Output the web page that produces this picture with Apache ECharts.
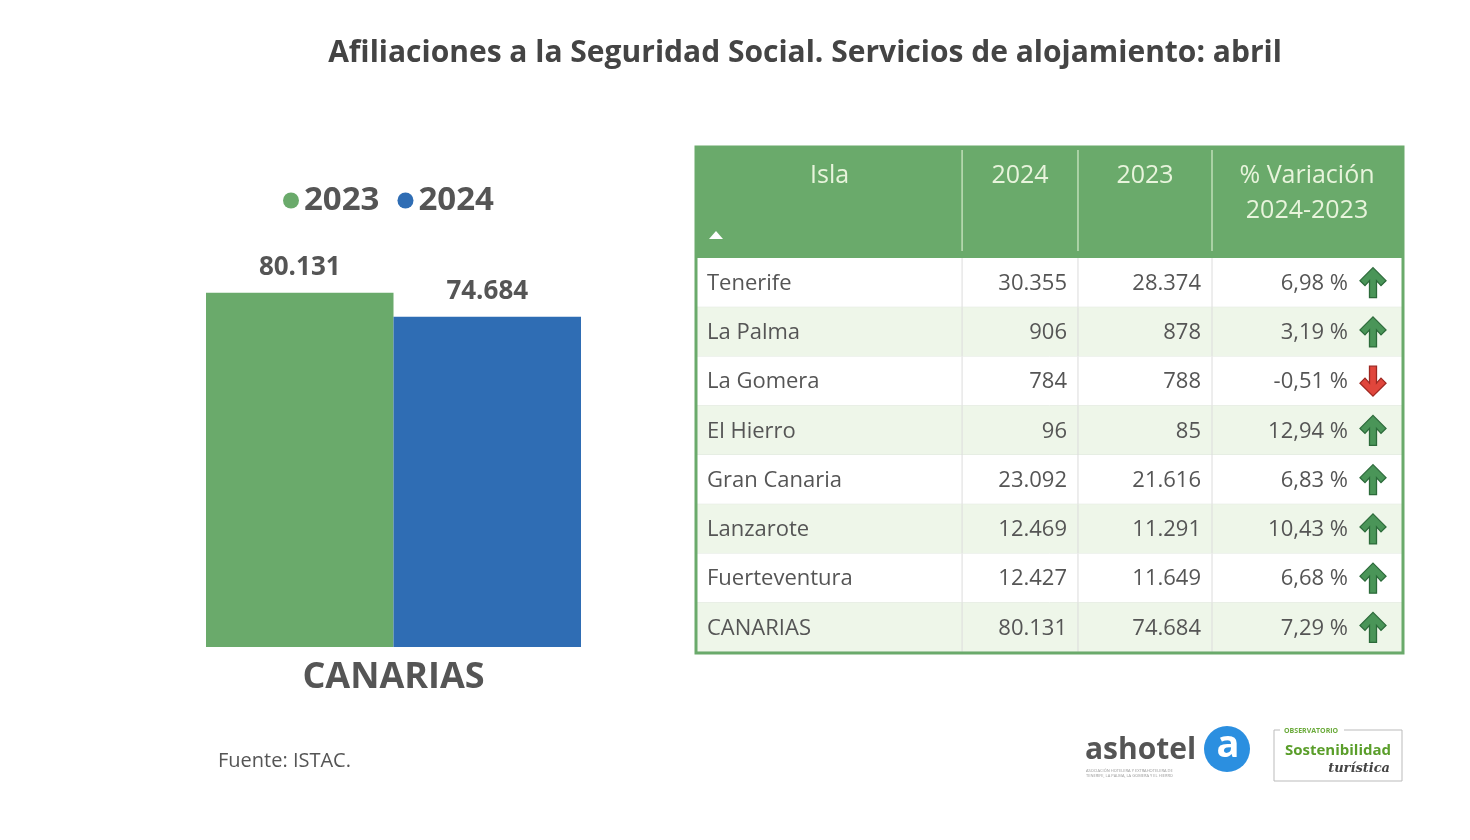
<!DOCTYPE html>
<html>
<head>
<meta charset="utf-8">
<script src="https://cdn.jsdelivr.net/npm/echarts@6/dist/echarts.min.js"></script>
<style>
html,body{margin:0;padding:0;background:#fff;}
#chart{width:1470px;height:840px;}
</style>
</head>
<body>
<div id="chart"></div>
<script>
// ---------- data ----------
const titleText = 'Afiliaciones a la Seguridad Social. Servicios de alojamiento: abril';
const barCategories = ['CANARIAS'];
const barSeriesNames = ['2023', '2024'];
const barValues2023 = [80131];
const barValues2024 = [74684];

const tableHeaders = ['Isla', '2024', '2023', '% Variación\n2024-2023'];
const islas = ['Tenerife', 'La Palma', 'La Gomera', 'El Hierro', 'Gran Canaria', 'Lanzarote', 'Fuerteventura', 'CANARIAS'];
const afil2024 = [30355, 906, 784, 96, 23092, 12469, 12427, 80131];
const afil2023 = [28374, 878, 788, 85, 21616, 11291, 11649, 74684];
const variacion = [6.98, 3.19, -0.51, 12.94, 6.83, 10.43, 6.68, 7.29];
const sourceText = 'Fuente: ISTAC.';

// ---------- helpers ----------
function fmtInt(v) {
  return String(Math.round(v)).replace(/\B(?=(\d{3})+(?!\d))/g, '.');
}
function fmtPct(v) {
  return v.toFixed(2).replace('.', ',') + ' %';
}

const GREEN = '#6aaa6b';
const BLUE = '#2f6db4';
const TXT = '#555555';
const FONT = '"Open Sans", "Noto Sans", sans-serif';

// table layout (fractions of table width)
const colFrac = [0, 0.376, 0.5404, 0.7305, 1];
const T_LEFT = 697, T_WIDTH = 705, T_HEAD_TOP = 148, T_BODY_TOP = 258, T_ROW_H = 49.25;

function arrowPath(cx, cy, up) {
  const s = up ? 1 : -1;
  const pts = [[0,-15],[13,-2],[8,3],[3.5,-2],[3.5,15],[-3.5,15],[-3.5,-2],[-8,3],[-13,-2]];
  return pts.map(p => [cx + p[0], cy + s * p[1]]);
}

function renderRow(params, api) {
  const i = api.value(1);
  const c = api.coord([0, i]);
  const h = api.size([0, 1])[1];
  const cs = params.coordSys;
  const x0 = cs.x, w = cs.width;
  const top = c[1] - h / 2;
  const b = colFrac.map(f => x0 + f * w);
  const cy = c[1];
  const up = variacion[i] >= 0;
  const textStyle = (txt, x, align) => ({
    type: 'text',
    style: { text: txt, x: x, y: cy + 1, align: align, verticalAlign: 'middle',
      fill: TXT, font: '22px ' + FONT }
  });
  return {
    type: 'group',
    children: [
      { type: 'rect', shape: { x: x0, y: top, width: w, height: h },
        style: { fill: i % 2 === 1 ? '#eef6e9' : '#ffffff' } },
      { type: 'line', shape: { x1: x0, y1: top + h, x2: x0 + w, y2: top + h },
        style: { stroke: '#dfe6dc', lineWidth: 1 } },
      { type: 'line', shape: { x1: b[1], y1: top, x2: b[1], y2: top + h }, style: { stroke: '#dcdcdc', lineWidth: 1 } },
      { type: 'line', shape: { x1: b[2], y1: top, x2: b[2], y2: top + h }, style: { stroke: '#dcdcdc', lineWidth: 1 } },
      { type: 'line', shape: { x1: b[3], y1: top, x2: b[3], y2: top + h }, style: { stroke: '#dcdcdc', lineWidth: 1 } },
      textStyle(islas[i], b[0] + 10, 'left'),
      textStyle(fmtInt(afil2024[i]), b[2] - 11, 'right'),
      textStyle(fmtInt(afil2023[i]), b[3] - 11, 'right'),
      textStyle(fmtPct(variacion[i]), b[4] - 54, 'right'),
      { type: 'polygon', shape: { points: arrowPath(b[4] - 29, cy, up) },
        style: { fill: up ? '#4a9558' : '#e0463c', stroke: up ? '#2c6a3a' : '#9e2720', lineWidth: 1.3 } }
    ]
  };
}

// header graphics
const graphics = [];
graphics.push({ type: 'rect', shape: { x: T_LEFT - 1, y: T_HEAD_TOP - 1, width: T_WIDTH + 2, height: T_BODY_TOP - T_HEAD_TOP + 1 },
  style: { fill: GREEN }, z: 1 });
for (let k = 0; k < 4; k++) {
  const xa = T_LEFT + colFrac[k] * T_WIDTH, xb = T_LEFT + colFrac[k + 1] * T_WIDTH;
  graphics.push({ type: 'text', z: 3, style: { text: tableHeaders[k], x: (xa + xb) / 2, y: 158,
    align: 'center', verticalAlign: 'top', fill: '#e8f4dc', font: '25px ' + FONT, lineHeight: 35 } });
  if (k > 0) graphics.push({ type: 'line', z: 3, shape: { x1: xa, y1: 150, x2: xa, y2: 251 },
    style: { stroke: '#d6ebcc', lineWidth: 1.2 } });
}
graphics.push({ type: 'polygon', z: 3, shape: { points: [[709, 239], [723, 239], [716, 231]] }, style: { fill: '#ffffff' } });
// outer border
graphics.push({ type: 'rect', z: 10, shape: { x: T_LEFT - 1, y: T_HEAD_TOP - 1, width: T_WIDTH + 2, height: T_BODY_TOP - T_HEAD_TOP + 8 * T_ROW_H + 2 },
  style: { fill: 'none', stroke: GREEN, lineWidth: 3 } });
// source
graphics.push({ type: 'text', style: { text: sourceText, x: 218, y: 761, verticalAlign: 'middle', fill: TXT, font: '20px ' + FONT } });
// ashotel logo
graphics.push({ type: 'text', style: { text: 'ashotel', x: 1085, y: 750, verticalAlign: 'middle', fill: '#555', font: 'bold 30px ' + FONT } });
graphics.push({ type: 'text', style: { text: 'ASOCIACIÓN HOTELERA Y EXTRAHOTELERA DE\nTENERIFE, LA PALMA, LA GOMERA Y EL HIERRO', x: 1086, y: 773,
  verticalAlign: 'middle', fill: '#999', font: '4px ' + FONT, lineHeight: 5 } });
graphics.push({ type: 'circle', shape: { cx: 1227, cy: 749, r: 23 }, style: { fill: '#2b8fe0' } });
graphics.push({ type: 'text', style: { text: 'a', x: 1228, y: 746, align: 'center', verticalAlign: 'middle', fill: '#fff', font: 'bold 38px ' + FONT } });
// observatorio logo
graphics.push({ type: 'rect', shape: { x: 1274, y: 730, width: 128, height: 51 }, style: { fill: '#fff', stroke: '#bbb', lineWidth: 1 } });
graphics.push({ type: 'rect', shape: { x: 1280, y: 726, width: 64, height: 8 }, style: { fill: '#fff' } });
graphics.push({ type: 'text', style: { text: 'OBSERVATORIO', x: 1284, y: 731, verticalAlign: 'middle', fill: '#6aaa3a', font: 'bold 7px ' + FONT } });
graphics.push({ type: 'text', style: { text: 'Sostenibilidad', x: 1338, y: 751, align: 'center', verticalAlign: 'middle', fill: '#5a9e2a', font: 'bold 15px ' + FONT } });
graphics.push({ type: 'text', style: { text: 'turística', x: 1390, y: 769, align: 'right', verticalAlign: 'middle', fill: '#444', font: 'italic bold 13px "DejaVu Serif", serif' } });

const chart = echarts.init(document.getElementById('chart'));
chart.setOption({
  backgroundColor: '#ffffff',
  animation: false,
  title: {
    text: titleText, left: 800, top: 33, textAlign: 'center',
    textStyle: { fontFamily: FONT, fontWeight: 'bold', fontSize: 30, color: '#444' }
  },
  legend: {
    data: barSeriesNames, left: 278, top: 179, icon: 'circle', itemWidth: 16, itemHeight: 16, itemGap: 18,
    textStyle: { fontFamily: FONT, fontWeight: 'bold', fontSize: 33, color: TXT }
  },
  grid: [
    { left: 206, top: 249, width: 375, height: 398 },
    { left: T_LEFT, top: T_BODY_TOP, width: T_WIDTH, height: 8 * T_ROW_H }
  ],
  xAxis: [
    { type: 'category', gridIndex: 0, data: barCategories, axisLine: { show: false }, axisTick: { show: false },
      axisLabel: { fontFamily: FONT, fontWeight: 'bold', fontSize: 36, color: TXT, margin: 13 } },
    { type: 'value', gridIndex: 1, min: 0, max: 1, show: false }
  ],
  yAxis: [
    { type: 'value', gridIndex: 0, min: 0, max: 90000, show: false, splitLine: { show: false } },
    { type: 'category', gridIndex: 1, data: islas, inverse: true, show: false }
  ],
  series: [
    { name: '2023', type: 'bar', xAxisIndex: 0, yAxisIndex: 0, data: barValues2023, barGap: '0%', barCategoryGap: '0%',
      itemStyle: { color: GREEN },
      label: { show: true, position: 'top', distance: 12, formatter: p => fmtInt(p.value),
        fontFamily: FONT, fontWeight: 'bold', fontSize: 26, color: TXT } },
    { name: '2024', type: 'bar', xAxisIndex: 0, yAxisIndex: 0, data: barValues2024, barGap: '0%', barCategoryGap: '0%',
      itemStyle: { color: BLUE },
      label: { show: true, position: 'top', distance: 12, formatter: p => fmtInt(p.value),
        fontFamily: FONT, fontWeight: 'bold', fontSize: 26, color: TXT } },
    { name: 'tabla', type: 'custom', xAxisIndex: 1, yAxisIndex: 1, renderItem: renderRow,
      data: islas.map((n, i) => [0, i]), encode: { x: 0, y: 1 }, silent: true }
  ],
  graphic: graphics
});
</script>
</body>
</html>
